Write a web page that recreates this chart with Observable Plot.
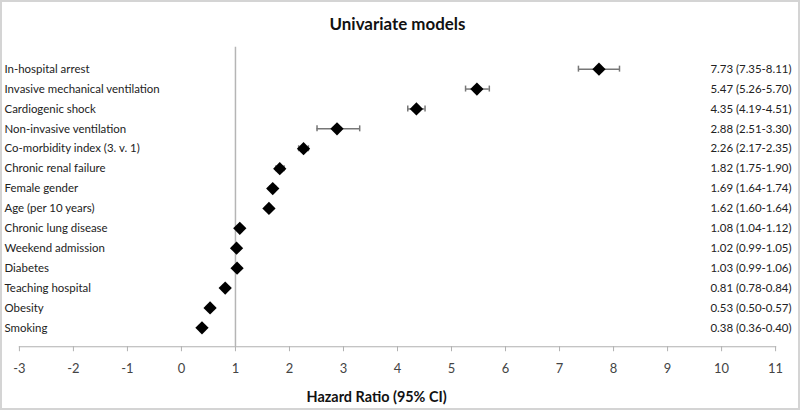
<!DOCTYPE html>
<html><head><meta charset="utf-8">
<script src="https://cdn.jsdelivr.net/npm/d3@7"></script>
<script src="https://cdn.jsdelivr.net/npm/@observablehq/plot@0.6"></script>
<style>
html,body{margin:0;padding:0;background:#fff;}
#wrap{width:800px;height:410px;box-sizing:border-box;border:2px solid #d4d4d4;position:relative;overflow:hidden;}
#wrap svg{position:absolute;left:-2px;top:-2px;}
</style>
</head><body><div id="wrap"></div>
<script>
const categories = ["In-hospital arrest","Invasive mechanical ventilation","Cardiogenic shock","Non-invasive ventilation","Co-morbidity index (3. v. 1)","Chronic renal failure","Female gender","Age (per 10 years)","Chronic lung disease","Weekend admission","Diabetes","Teaching hospital","Obesity","Smoking"];
const hr = [7.73,5.47,4.35,2.88,2.26,1.82,1.69,1.62,1.08,1.02,1.03,0.81,0.53,0.38];
const lo = [7.35,5.26,4.19,2.51,2.17,1.75,1.64,1.60,1.04,0.99,0.99,0.78,0.50,0.36];
const hi = [8.11,5.70,4.51,3.30,2.35,1.90,1.74,1.64,1.12,1.05,1.06,0.84,0.57,0.40];
const xTicks = [-3,-2,-1,0,1,2,3,4,5,6,7,8,9,10,11];
const title = "Univariate models";
const xLabel = "Hazard Ratio (95% CI)";

const fmt = v => v.toFixed(2);
const rows = categories.map((c,i)=>({cat:c, hr:hr[i], lo:lo[i], hi:hi[i], txt:`${fmt(hr[i])} (${fmt(lo[i])}-${fmt(hi[i])})`}));
const font = "Lato, 'Open Sans', sans-serif";

const chart = Plot.plot({
  width: 800, height: 410,
  marginLeft: 19, marginRight: 21, marginTop: 47, marginBottom: 62,
  style: {fontFamily: font, background: "#fff"},
  x: {domain: [-3, 11], ticks: xTicks},
  y: {type: "band", domain: categories, range: [58, 340], padding: 0, axis: null},
  marks: [
    Plot.ruleX([1], {stroke: "#b5b5b5", strokeWidth: 1.5}),
    Plot.frame({anchor: "bottom", stroke: "#b0b0b0", strokeWidth: 1.2}),
    Plot.axisX({ticks: xTicks, tickSize: 5, tickPadding: 12, stroke: "#b0b0b0", fill: "#444", fontSize: 13, label: null, tickFormat: d => String(d)}),
    Plot.ruleY(rows, {y: "cat", x1: "lo", x2: "hi", stroke: "#777", strokeWidth: 1.5}),
    Plot.tickX(rows, {y: "cat", x: "lo", stroke: "#777", strokeWidth: 1.5, insetTop: 7, insetBottom: 7}),
    Plot.tickX(rows, {y: "cat", x: "hi", stroke: "#777", strokeWidth: 1.5, insetTop: 7, insetBottom: 7}),
    Plot.dot(rows, {y: "cat", x: "hr", symbol: "diamond2", r: 6, fill: "#000", stroke: "none"}),
    Plot.text(rows, {y: "cat", text: "cat", frameAnchor: "left", dx: -15, textAnchor: "start", fontSize: 11.5, fill: "#222"}),
    Plot.text(rows, {y: "cat", text: "txt", frameAnchor: "right", dx: 16, textAnchor: "end", fontSize: 11.5, fill: "#222"}),
    Plot.text([title], {frameAnchor: "top", dy: -29, fontSize: 17, fontWeight: "bold", fill: "#111"}),
    Plot.text([xLabel], {frameAnchor: "bottom", dy: 56, dx: -21, fontSize: 14.5, fontWeight: "bold", fill: "#111"})
  ]
});
document.getElementById("wrap").appendChild(chart);
</script>
</body></html>
